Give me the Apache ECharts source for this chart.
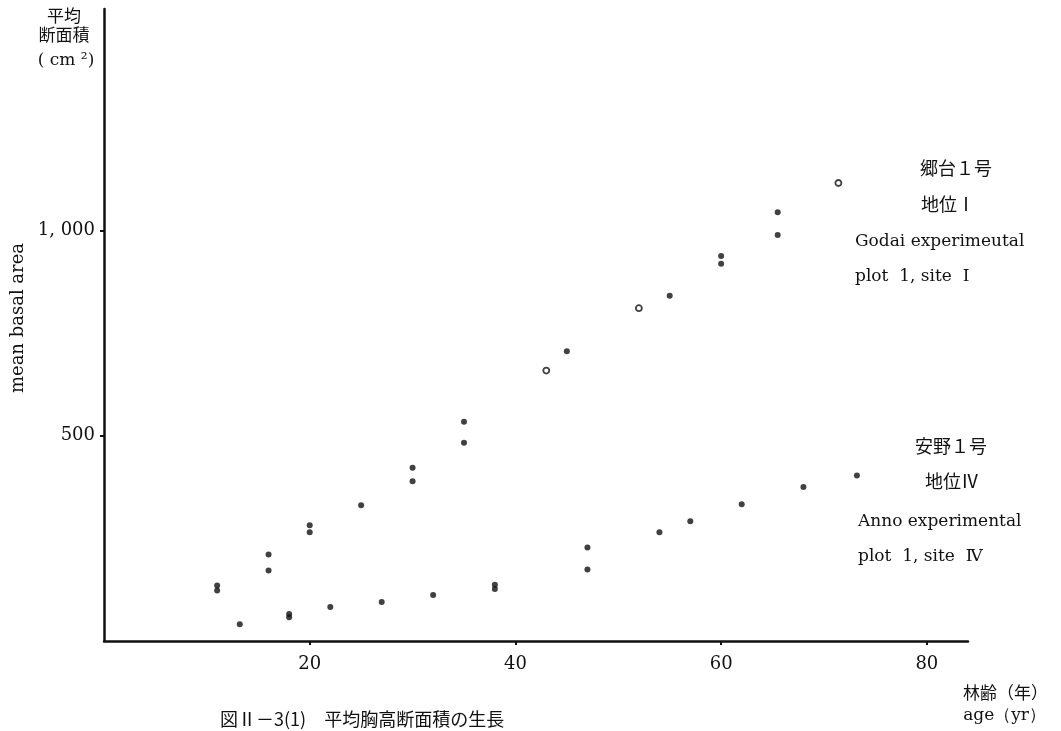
<!DOCTYPE html>
<html>
<head>
<meta charset="utf-8">
<script src="https://cdn.jsdelivr.net/npm/echarts@6/dist/echarts.min.js"></script>
<style>
html,body{margin:0;padding:0;background:#fff;}
#chart{width:1061px;height:731px;}
</style>
</head>
<body>
<div id="chart"></div>
<script>
// Godai experimental plot 1, site I
const godaiAge  = [11, 11, 16, 16, 20, 20, 25, 30, 30, 35, 35, 43, 45, 52, 55, 60, 60, 65.5, 65.5, 71.4];
const godaiArea = [135, 123, 211, 172, 282, 265, 331, 422, 389, 534, 483, 659, 706, 811, 841, 938, 919, 1045, 989, 1116];
const godaiOpen = [0, 0, 0, 0, 0, 0, 0, 0, 0, 0, 0, 1, 0, 1, 0, 0, 0, 0, 0, 1];
// Anno experimental plot 1, site IV
const annoAge  = [13.2, 18, 18, 22, 27, 32, 38, 38, 47, 47, 54, 57, 62, 68, 73.2];
const annoArea = [41, 66, 58, 83, 95, 112, 137, 127, 228, 174, 265, 292, 333, 375, 403];
// axes
const xTicks = [20, 40, 60, 80];
const yTicks = [500, 1000];
const yTickLabels = ['500', '1, 000'];

const chart = echarts.init(document.getElementById('chart'));
const serif = "'DejaVu Serif', 'Liberation Serif', serif";
const cjk = "'Noto Sans CJK JP', sans-serif";
const ink = '#111';

const godaiData = godaiAge.map((a, i) => ({
  value: [a, godaiArea[i]],
  itemStyle: godaiOpen[i] ? {color: '#fff', borderColor: ink, borderWidth: 1.8} : {color: ink}
}));
const annoData = annoAge.map((a, i) => [a, annoArea[i]]);

function txt(x, y, text, font, align, extra) {
  return Object.assign({type: 'text', x: x, y: y,
    style: {text: text, font: font, fill: ink, align: align || 'left', verticalAlign: 'middle'}}, extra || {});
}

chart.setOption({
  animation: false,
  backgroundColor: '#fff',
  grid: {left: 104, right: 93, top: 9, bottom: 90},
  xAxis: {
    type: 'value', min: 0, max: 84,
    axisLine: {show: true, lineStyle: {color: ink, width: 2.5}},
    axisTick: {show: true, customValues: xTicks, length: 4, lineStyle: {color: ink, width: 2}},
    axisLabel: {customValues: xTicks, margin: 14, color: ink, fontFamily: serif, fontSize: 18},
    splitLine: {show: false}
  },
  yAxis: {
    type: 'value', min: 0, max: 1540,
    axisLine: {show: true, lineStyle: {color: ink, width: 2.5}},
    axisTick: {show: true, customValues: yTicks, length: 4, lineStyle: {color: ink, width: 2}},
    axisLabel: {customValues: yTicks, margin: 9, color: ink, fontFamily: serif, fontSize: 18,
      formatter: v => { const k = yTicks.indexOf(v); return k >= 0 ? yTickLabels[k] : ''; }},
    splitLine: {show: false}
  },
  series: [
    {name: 'Godai', type: 'scatter', symbol: 'circle', symbolSize: 6, data: godaiData, itemStyle: {color: ink}},
    {name: 'Anno', type: 'scatter', symbol: 'circle', symbolSize: 6, data: annoData, itemStyle: {color: ink}}
  ],
  graphic: [
    txt(64, 16, '平均', '17px ' + cjk, 'center'),
    txt(64, 35, '断面積', '17px ' + cjk, 'center'),
    txt(66, 61, '( cm ²)', '17px ' + serif, 'center'),
    txt(18, 318, 'mean basal area', '18px ' + serif, 'center', {rotation: Math.PI / 2}),
    txt(956, 168, '郷台１号', '18px ' + cjk, 'center'),
    txt(948, 204, '地位Ⅰ', '18px ' + cjk, 'center'),
    txt(855, 242, 'Godai experimeutal', '17px ' + serif, 'left'),
    txt(855, 277, 'plot  1, site  Ⅰ', '17px ' + serif, 'left'),
    txt(951, 446, '安野１号', '18px ' + cjk, 'center'),
    txt(952, 481, '地位Ⅳ', '18px ' + cjk, 'center'),
    txt(858, 522, 'Anno experimental', '17px ' + serif, 'left'),
    txt(858, 557, 'plot  1, site  Ⅳ', '17px ' + serif, 'left'),
    txt(1048, 693, '林齢（年）', '17px ' + cjk, 'right'),
    txt(1046, 716, 'age（yr）', '17px ' + serif, 'right'),
    txt(220, 719, '図Ⅱ－3(1)　平均胸高断面積の生長', '18px ' + cjk, 'left')
  ]
});
</script>
</body>
</html>
